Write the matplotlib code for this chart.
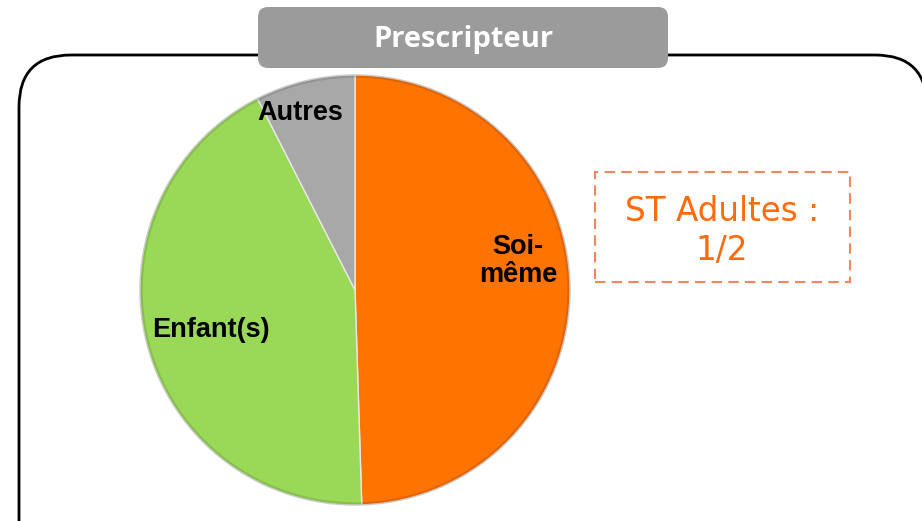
import matplotlib.pyplot as plt
from matplotlib.patches import FancyBboxPatch, Circle

# parts of the prescribers
categories = ["Soi-\nmême", "Enfant(s)", "Autres"]
shares = [49.5, 43.0, 7.5]
colors = ["#FF7300", "#9AD957", "#A8A8A8"]

W, H = 922, 521
fig = plt.figure(figsize=(W / 100, H / 100), dpi=100)
ax = fig.add_axes([0, 0, 1, 1])

# outer rounded frame
frame = FancyBboxPatch((19, -60), 908, 526, boxstyle="round,pad=0,rounding_size=52",
                       facecolor="white", edgecolor="black", linewidth=2.0, zorder=1)
ax.add_patch(frame)

# title tab
tab = FancyBboxPatch((258, 453), 410, 61, boxstyle="round,pad=0,rounding_size=10",
                     facecolor="#9B9B9B", edgecolor="none", zorder=3)
ax.add_patch(tab)
ax.text(463, 481, "Prescripteur", ha="center", va="center", color="white",
        fontsize=21, fontweight="bold", family="Open Sans", zorder=4)

# pie
wedges, _ = ax.pie(shares, colors=colors, startangle=90, counterclock=False,
                   center=(355, 231), radius=215, frame=True,
                   wedgeprops=dict(edgecolor="#E8E8E8", linewidth=1.0, zorder=2))
# slight shaded rim
ax.add_patch(Circle((355, 231), 214, facecolor="none", edgecolor="black",
                    alpha=0.12, linewidth=2.5, zorder=2.5))
ax.set_xlim(0, W)
ax.set_ylim(0, H)
ax.set_aspect("equal")
ax.axis("off")

label_pos = [(518, 260), (211, 191), (300, 408)]
for txt, (x, y) in zip(categories, label_pos):
    ax.text(x, y, txt, ha="center", va="center", fontsize=19.5, fontweight="bold",
            family="Liberation Sans", color="black", linespacing=1.05, zorder=5)

# side note
note = FancyBboxPatch((595, 239), 255, 110, boxstyle="square,pad=0",
                      facecolor="none", edgecolor="#F2875F", linewidth=1.5,
                      linestyle=(0, (5, 3)), zorder=3)
ax.add_patch(note)
ax.text(722, 290, "ST Adultes :\n1/2", ha="center", va="center", color="#FF6A0A",
        fontsize=23.5, family="DejaVu Sans", linespacing=1.25, zorder=4)

fig.savefig("out.png", dpi=100)
